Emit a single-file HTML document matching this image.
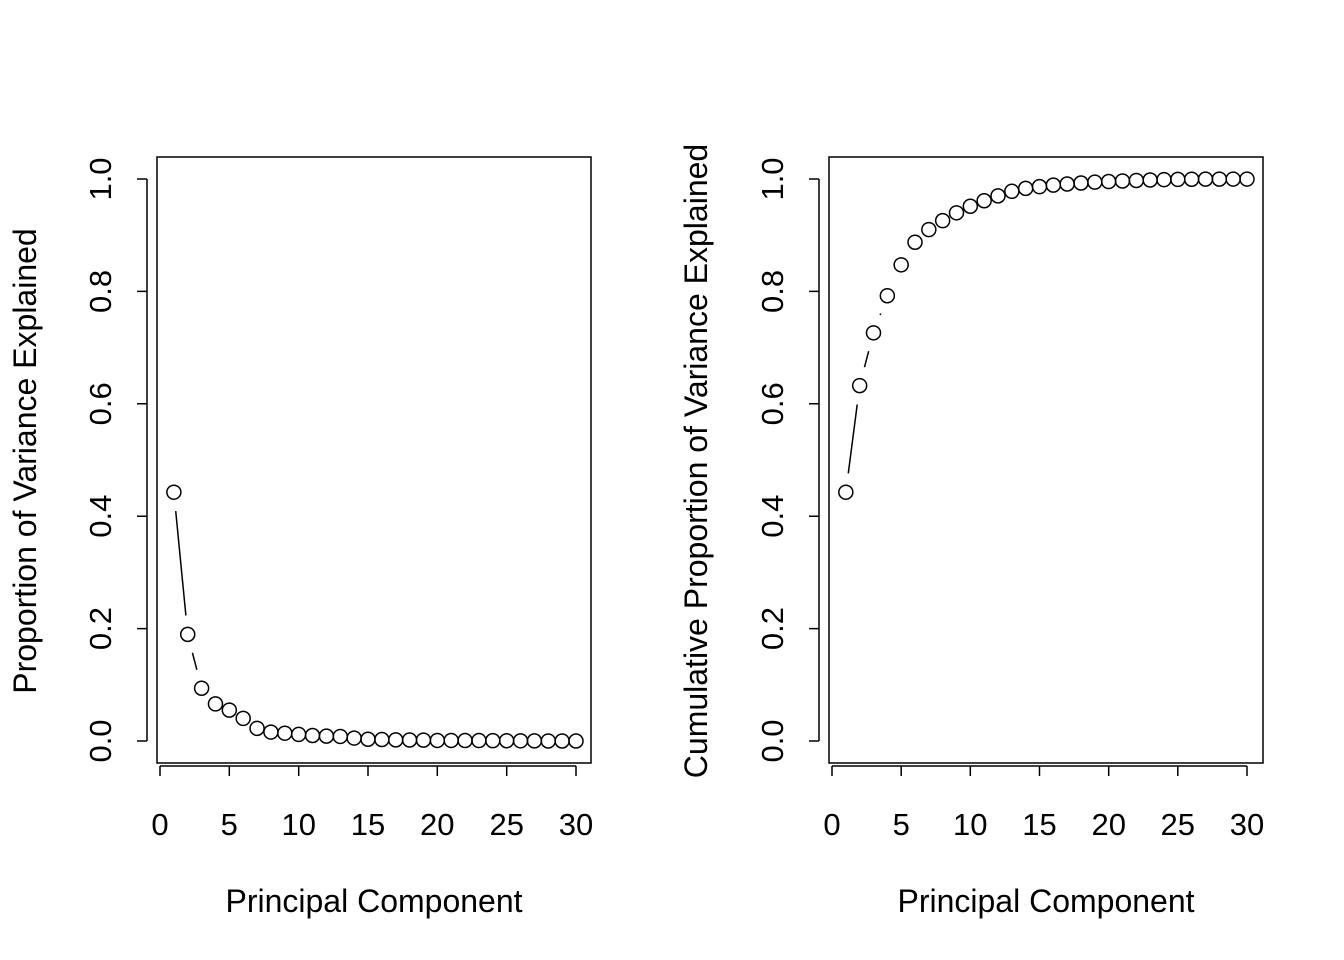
<!DOCTYPE html>
<html><head><style>body{margin:0;background:#fff}svg{display:block}text{font-family:"Liberation Sans",sans-serif;font-size:31px;fill:#000}.t{font-size:32px}</style></head>
<body>
<svg id="s" width="1344" height="960" xmlns="http://www.w3.org/2000/svg">
<g fill="none" stroke="#000" stroke-width="1.5">
<rect x="157" y="157" width="434" height="606"/>
<rect x="829" y="157" width="434" height="606"/>
<path d="M160 766H576M160 766v10M229.3 766v10M298.7 766v10M368 766v10M437.3 766v10M506.7 766v10M576 766v10"/>
<path d="M147 179V741M147 741h-10M147 628.6h-10M147 516.2h-10M147 403.8h-10M147 291.4h-10M147 179h-10"/>
<path d="M832 766H1247M832 766v10M901.2 766v10M970.3 766v10M1039.5 766v10M1108.7 766v10M1177.8 766v10M1247 766v10"/>
<path d="M819 179V741M819 741h-10M819 628.6h-10M819 516.2h-10M819 403.8h-10M819 291.4h-10M819 179h-10"/>
</g>
<g text-anchor="middle">
<text x="160" y="835">0</text><text x="229.3" y="835">5</text><text x="298.7" y="835">10</text><text x="368" y="835">15</text><text x="437.3" y="835">20</text><text x="506.7" y="835">25</text><text x="576" y="835">30</text>
<text x="832" y="835">0</text><text x="901.2" y="835">5</text><text x="970.3" y="835">10</text><text x="1039.5" y="835">15</text><text x="1108.7" y="835">20</text><text x="1177.8" y="835">25</text><text x="1247" y="835">30</text>
<text class="t" x="374" y="912">Principal Component</text><text class="t" x="1046" y="912">Principal Component</text>
<text transform="translate(111,741) rotate(-90)">0.0</text><text transform="translate(111,628.6) rotate(-90)">0.2</text><text transform="translate(111,516.2) rotate(-90)">0.4</text><text transform="translate(111,403.8) rotate(-90)">0.6</text><text transform="translate(111,291.4) rotate(-90)">0.8</text><text transform="translate(111,179) rotate(-90)">1.0</text>
<text transform="translate(783,741) rotate(-90)">0.0</text><text transform="translate(783,628.6) rotate(-90)">0.2</text><text transform="translate(783,516.2) rotate(-90)">0.4</text><text transform="translate(783,403.8) rotate(-90)">0.6</text><text transform="translate(783,291.4) rotate(-90)">0.8</text><text transform="translate(783,179) rotate(-90)">1.0</text>
<text class="t" transform="translate(36,461) rotate(-90)">Proportion of Variance Explained</text>
<text class="t" transform="translate(707,461) rotate(-90)">Cumulative Proportion of Variance Explained</text>
</g>
<g id="d" fill="none" stroke="#000" stroke-width="1.5"></g>
</svg>
<script>
var p=[0.4427,0.1897,0.0939,0.0660,0.0550,0.0402,0.0225,0.0159,0.0139,0.0117,0.0098,0.0087,0.0081,0.0052,0.0031,0.0027,0.0020,0.0018,0.0016,0.0010,0.0010,0.0009,0.0008,0.0006,0.0005,0.0003,0.0002,0.00005,0.00002,0.000005];
var c=[],s=0;p.forEach(function(v){s+=v;c.push(Math.min(s,1));});
var g=document.getElementById('d'),h='';
function draw(arr,x0,xs){var pts=arr.map(function(v,i){return[x0+(i+1)*xs,741-v*562];});
for(var i=0;i<pts.length-1;i++){var a=pts[i],b=pts[i+1],dx=b[0]-a[0],dy=b[1]-a[1],d=Math.sqrt(dx*dx+dy*dy),gp=19;
if(d>2*gp){var ux=dx/d,uy=dy/d;h+='<line x1="'+(a[0]+ux*gp)+'" y1="'+(a[1]+uy*gp)+'" x2="'+(b[0]-ux*gp)+'" y2="'+(b[1]-uy*gp)+'"/>';}}
pts.forEach(function(q){h+='<circle cx="'+q[0]+'" cy="'+q[1]+'" r="7"/>';});}
draw(p,160,416/30);draw(c,832,415/30);g.innerHTML=h;
</script>
</body></html>
